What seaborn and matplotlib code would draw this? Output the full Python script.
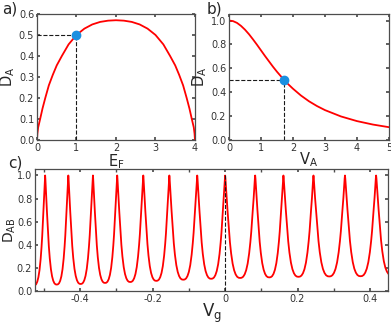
import numpy as np
import matplotlib
matplotlib.use('Agg')
import matplotlib.pyplot as plt
import seaborn as sns

# panel a) D_A vs E_F
ef_vals = [0, 0.01, 0.03, 0.08, 0.14, 0.21, 0.3, 0.4, 0.5, 0.63, 0.8, 1.0, 1.2, 1.4, 1.6, 1.8, 2.0,
           2.2, 2.4, 2.6, 2.8, 3.0, 3.2, 3.37, 3.5, 3.6, 3.7, 3.79, 3.86, 3.92, 3.97, 3.99, 4.0]
da_vals_a = [0, 0.03, 0.06, 0.1, 0.15, 0.2, 0.26, 0.31, 0.355, 0.4, 0.455, 0.5, 0.53, 0.55, 0.562, 0.568, 0.57,
             0.568, 0.562, 0.55, 0.53, 0.5, 0.455, 0.4, 0.355, 0.31, 0.26, 0.2, 0.15, 0.1, 0.06, 0.03, 0]
point_a = (1.0, 0.5)

# panel b) D_A vs V_A
va_vals = [0, 0.125, 0.25, 0.375, 0.5, 0.625, 0.75, 0.875, 1.0, 1.125, 1.25, 1.375, 1.5, 1.6, 1.73,
           1.85, 2.0, 2.25, 2.5, 2.75, 3.0, 3.5, 4.0, 4.5, 5.0]
da_vals_b = [1.0, 0.995, 0.98, 0.955, 0.923, 0.885, 0.842, 0.797, 0.75, 0.703, 0.658, 0.613, 0.571,
             0.54, 0.5, 0.467, 0.429, 0.372, 0.324, 0.284, 0.25, 0.197, 0.158, 0.129, 0.107]
point_b = (1.73, 0.5)

# panel c) D_AB vs V_g : peak positions, minimum between peaks, peak profile
peak_pos = [-0.559, -0.497, -0.433, -0.365, -0.298, -0.226, -0.154, -0.077, 0.0,
            0.083, 0.161, 0.244, 0.331, 0.417, 0.502]
min_vals = [0.05, 0.058, 0.063, 0.072, 0.08, 0.09, 0.10, 0.108, 0.115, 0.12,
            0.125, 0.128, 0.13, 0.14]
prof_t = [0, 0.01, 0.025, 0.05, 0.08, 0.1, 0.13, 0.16, 0.2, 0.25, 0.3, 0.35, 0.4, 0.45, 0.5]
prof_r = [1.0, 0.97, 0.9, 0.78, 0.66, 0.58, 0.45, 0.35, 0.24, 0.14, 0.075, 0.035, 0.012, 0.002, 0.0]

vg, dab = [], []
for i in range(len(peak_pos) - 1):
    p0, p1, m = peak_pos[i], peak_pos[i + 1], min_vals[i]
    for t, r in zip(prof_t, prof_r):
        vg.append(p0 + t * (p1 - p0))
        dab.append(m + (1 - m) * r)
    for t, r in zip(prof_t[::-1][1:-1], prof_r[::-1][1:-1]):
        vg.append(p1 - t * (p1 - p0))
        dab.append(m + (1 - m) * r)
vg.append(peak_pos[-1])
dab.append(1.0)

sns.set_theme(style='ticks')
plt.rcParams.update({
    'font.family': ['DejaVu Sans'],
    'axes.unicode_minus': False,
    'xtick.direction': 'in', 'ytick.direction': 'in',
    'xtick.top': True, 'ytick.right': True,
    'xtick.labelsize': 7, 'ytick.labelsize': 7,
    'xtick.major.size': 2.5, 'ytick.major.size': 2.5,
    'xtick.minor.size': 2.5,
    'xtick.major.pad': 2, 'ytick.major.pad': 2,
    'axes.edgecolor': '0.3', 'axes.linewidth': 0.9,
    'xtick.color': '0.3', 'ytick.color': '0.3',
    'xtick.labelcolor': '0.2', 'ytick.labelcolor': '0.2',
})

fig = plt.figure(figsize=(3.91, 3.24), dpi=100)
ax_a = fig.add_axes([0.0946, 0.568, 0.404, 0.389])
ax_b = fig.add_axes([0.5857, 0.568, 0.409, 0.389])
ax_c = fig.add_axes([0.0895, 0.101, 0.903, 0.377])

red = '#ff0000'
blue = '#1a8fe0'

# a)
sns.lineplot(x=ef_vals, y=da_vals_a, ax=ax_a, color=red, lw=1.3, sort=False)
ax_a.plot([0, point_a[0]], [point_a[1]] * 2, ls='--', color='k', lw=0.8)
ax_a.plot([point_a[0]] * 2, [0, point_a[1]], ls='--', color='k', lw=0.8)
ax_a.plot(*point_a, 'o', color=blue, ms=6, zorder=5, clip_on=False)
ax_a.set_xlim(0, 4)
ax_a.set_ylim(0, 0.6)
ax_a.set_xticks([0, 1, 2, 3, 4])
ax_a.set_yticks(np.arange(0, 0.61, 0.1))
ax_a.set_xlabel('E$_\\mathrm{F}$', fontsize=10.5, labelpad=0)
ax_a.set_ylabel('D$_\\mathrm{A}$', fontsize=10.5, labelpad=1)

# b)
sns.lineplot(x=va_vals, y=da_vals_b, ax=ax_b, color=red, lw=1.3, sort=False)
ax_b.plot([0, point_b[0]], [point_b[1]] * 2, ls='--', color='k', lw=0.8)
ax_b.plot([point_b[0]] * 2, [0, point_b[1]], ls='--', color='k', lw=0.8)
ax_b.plot(*point_b, 'o', color=blue, ms=6, zorder=5)
ax_b.set_xlim(0, 5)
ax_b.set_ylim(0, 1.055)
ax_b.set_xticks([0, 1, 2, 3, 4, 5])
ax_b.set_yticks([0, 0.2, 0.4, 0.6, 0.8, 1.0])
ax_b.set_xlabel('V$_\\mathrm{A}$', fontsize=10.5, labelpad=-2)
ax_b.set_ylabel('D$_\\mathrm{A}$', fontsize=10.5, labelpad=1)

# c)
sns.lineplot(x=vg, y=dab, ax=ax_c, color=red, lw=1.3, sort=False)
ax_c.plot([0, 0], [0, 1], ls='--', color='k', lw=0.8)
ax_c.set_xlim(-0.525, 0.45)
ax_c.set_ylim(0, 1.055)
ax_c.set_xticks([-0.4, -0.2, 0, 0.2, 0.4])
ax_c.set_xticklabels(['-0.4', '-0.2', '0', '0.2', '0.4'])
ax_c.set_xticks([-0.5, -0.3, -0.1, 0.1, 0.3], minor=True)
ax_c.set_yticks([0, 0.2, 0.4, 0.6, 0.8, 1.0])
ax_c.set_xlabel('V$_\\mathrm{g}$', fontsize=12, labelpad=-1.5)
ax_c.set_ylabel('D$_\\mathrm{AB}$', fontsize=10, labelpad=-1)

for ax in (ax_a, ax_b, ax_c):
    for s in ax.spines.values():
        s.set_visible(True)

fig.text(0.005, 0.995, 'a)', fontsize=11, va='top', ha='left')
fig.text(0.528, 0.995, 'b)', fontsize=11, va='top', ha='left')
fig.text(0.02, 0.52, 'c)', fontsize=11, va='top', ha='left')

fig.savefig('out.png', dpi=100)
